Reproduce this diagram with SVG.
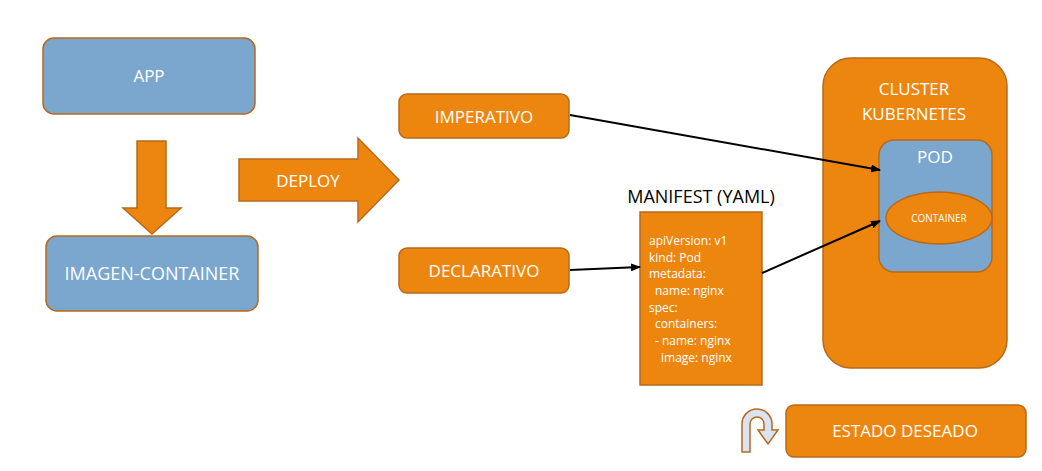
<svg xmlns="http://www.w3.org/2000/svg" width="1042" height="471" viewBox="0 0 1042 471">
<defs>
<marker id="ah" markerWidth="10" markerHeight="8" refX="9" refY="4" orient="auto" markerUnits="userSpaceOnUse">
<path d="M0,0 L10,4 L0,8 Z" fill="#000"/>
</marker>
<style>
.or{fill:#ED860F;stroke:#B8691A;stroke-width:1.5}
.bl{fill:#7BA7CE;stroke:#B8691A;stroke-width:1.5}
.lbl{font-family:"Open Sans","Liberation Sans",sans-serif;font-size:17px;fill:#fff;text-anchor:middle}
.code{font-family:"Open Sans","Liberation Sans",sans-serif;font-size:12px;fill:#fff}
.conn{stroke:#000;stroke-width:2;fill:none;marker-end:url(#ah)}
</style>
</defs>
<rect width="1042" height="471" fill="#fff"/>

<g id="app">
<rect class="bl" x="43" y="38" width="212" height="76" rx="11"/>
<text class="lbl" x="149" y="82">APP</text>
</g>

<g id="build-arrow">
<path class="or" d="M137,141 L166,141 L166,208 L181,208 L152,234 L123,208 L137,208 Z"/>
</g>

<g id="imagen-container">
<rect class="bl" x="46" y="236" width="212" height="75" rx="11"/>
<text class="lbl" x="152" y="280" style="font-size:18px">IMAGEN-CONTAINER</text>
</g>

<g id="deploy">
<path class="or" d="M239,159 L358,159 L358,138 L399,180 L358,222 L358,201 L239,201 Z"/>
<text class="lbl" x="308" y="187">DEPLOY</text>
</g>

<g id="imperativo">
<rect class="or" x="399" y="94" width="170" height="44" rx="8"/>
<text class="lbl" x="484" y="123">IMPERATIVO</text>
</g>

<g id="declarativo">
<rect class="or" x="399" y="248" width="170" height="45" rx="8"/>
<text class="lbl" x="484" y="277">DECLARATIVO</text>
</g>

<g id="manifest">
<text x="701" y="203" style="font-family:'Open Sans','Liberation Sans',sans-serif;font-size:18px;fill:#000;text-anchor:middle">MANIFEST (YAML)</text>
<rect class="or" x="640" y="212" width="122" height="173"/>
<text class="code" x="649" y="245">apiVersion: v1</text>
<text class="code" x="649" y="262">kind: Pod</text>
<text class="code" x="649" y="278">metadata:</text>
<text class="code" x="655" y="295">name: nginx</text>
<text class="code" x="649" y="312">spec:</text>
<text class="code" x="655" y="328">containers:</text>
<text class="code" x="655" y="345">- name: nginx</text>
<text class="code" x="661" y="362">image: nginx</text>
</g>

<g id="cluster">
<rect class="or" x="823" y="58" width="184" height="310" rx="28"/>
<text class="lbl" x="914" y="95">CLUSTER</text>
<text class="lbl" x="914" y="120">KUBERNETES</text>
</g>

<g id="pod">
<rect class="bl" x="879" y="140" width="113" height="132" rx="15"/>
<text class="lbl" x="935" y="163">POD</text>
</g>

<g id="container">
<ellipse class="or" cx="939" cy="218" rx="53" ry="26"/>
<text class="lbl" x="939" y="222" style="font-size:10px">CONTAINER</text>
</g>

<g id="estado-deseado">
<path d="M742,452 L742,424 A15,15 0 0 1 772,424 L772,430 L778,430 L768,444 L758,430 L764,430 L764,424 A7,7 0 0 0 750,424 L750,452 Z" fill="#DAE3F3" stroke="#B8691A" stroke-width="1.5"/>
<rect class="or" x="786" y="405" width="240" height="52" rx="8"/>
<text class="lbl" x="905" y="437">ESTADO DESEADO</text>
</g>

<g id="connectors">
<line class="conn" x1="570" y1="115" x2="880" y2="170"/>
<line class="conn" x1="570" y1="270" x2="640" y2="267"/>
<line class="conn" x1="762" y1="273" x2="880" y2="221"/>
</g>
</svg>
